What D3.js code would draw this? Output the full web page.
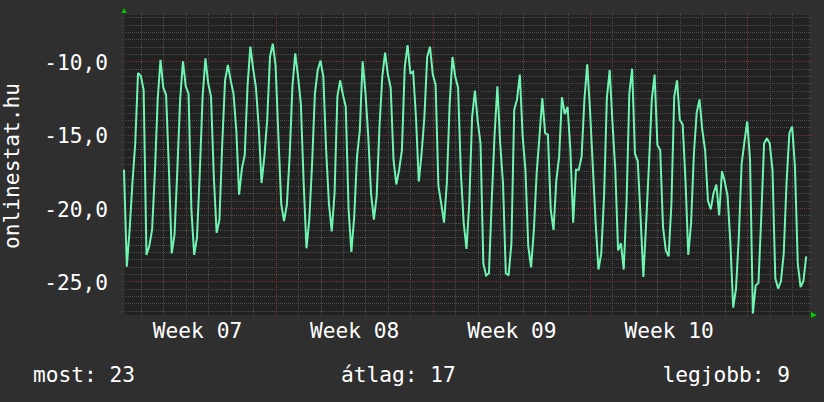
<!DOCTYPE html>
<html><head><meta charset="utf-8">
<script src="https://cdn.jsdelivr.net/npm/d3@7"></script>
<style>html,body{margin:0;padding:0;background:#2f2f2f;}svg{display:block;}</style>
</head><body>
<svg id="chart" width="824" height="402"></svg>
<script>
// ---- data ----
const startTime = "2013-02-11T06:00:00Z";
const endTime = "2013-03-13T18:00:00Z";
const stepHours = 3;
const rankValues = [
-17.4,-24.0,-21.5,-18.3,-15.6,-10.8,-11.0,-11.95,
-23.2,-22.6,-21.5,-17.6,-12.6,-9.9,-11.8,-12.3,
-17.4,-23.1,-21.8,-17.4,-12.6,-10.0,-11.7,-12.2,
-20.1,-23.2,-22.0,-17.6,-12.4,-9.8,-11.5,-12.4,
-17.9,-21.7,-20.8,-15.6,-11.3,-10.25,-11.3,-12.2,
-14.7,-19.1,-17.3,-16.4,-11.7,-9.0,-10.5,-11.8,
-14.5,-18.3,-16.5,-14.0,-9.7,-8.8,-10.3,-15.1,
-19.7,-20.9,-19.8,-16.5,-11.7,-9.45,-11.05,-12.9,
-18.3,-22.75,-20.8,-17.0,-12.2,-10.6,-9.95,-11.05,
-16.05,-19.7,-21.6,-19.0,-12.4,-11.3,-12.3,-13.1,
-20.1,-23.0,-20.6,-16.5,-14.7,-10.0,-12.1,-15.1,
-19.0,-20.8,-19.2,-14.5,-11.05,-9.4,-10.9,-11.8,
-16.7,-18.4,-17.4,-16.05,-10.4,-8.9,-10.8,-10.7,
-13.8,-18.2,-16.3,-13.8,-9.7,-9.0,-10.9,-11.6,
-18.5,-19.7,-21.0,-18.3,-12.9,-9.7,-11.05,-11.8,
-17.6,-21.0,-22.8,-19.6,-13.8,-12.0,-14.1,-15.6,
-23.8,-24.6,-24.45,-19.45,-15.0,-11.7,-15.6,-18.3,
-24.45,-24.6,-22.4,-13.3,-12.6,-10.9,-15.1,-17.4,
-22.6,-24.05,-21.5,-17.6,-15.1,-12.5,-14.9,-15.0,
-20.1,-21.5,-18.1,-16.5,-12.45,-13.6,-13.1,-16.0,
-21.0,-17.4,-17.4,-16.5,-12.6,-10.2,-13.3,-17.2,
-21.0,-24.2,-23.1,-19.2,-12.5,-10.6,-14.2,-17.4,
-22.9,-22.4,-24.2,-19.7,-12.2,-10.5,-16.3,-16.8,
-20.6,-24.7,-21.0,-17.0,-12.6,-10.9,-15.7,-16.05,
-21.3,-22.9,-23.3,-19.7,-12.4,-11.3,-14.0,-14.3,
-18.1,-23.2,-21.0,-16.3,-13.5,-12.6,-14.7,-16.05,
-19.5,-20.1,-19.0,-18.4,-20.5,-17.5,-18.2,-19.2,
-22.4,-26.8,-25.5,-22.0,-17.0,-15.5,-14.1,-16.7,
-27.2,-25.3,-25.1,-20.6,-15.6,-15.25,-15.6,-17.4,
-24.8,-25.5,-25.0,-23.1,-18.3,-14.9,-14.45,-17.2,
-23.8,-25.4,-25.0,-23.3
];
const yDomain = [-27.3, -6.84];
const yMajorTicks = [-25, -20, -15, -10];
const yMinorStep = 0.5;
const yTitle = "onlinestat.hu";
const weekPrefix = "Week ";
const legendLabels = ["most", "átlag", "legjobb"];
const legendValues = [23, 17, 9];

// ---- layout ----
const W = 824, H = 402;
const L = 124, R = 809, T = 15, B = 315;
const FONT = "'DejaVu Sans Mono', monospace";
const FS = 21.2;
const lineColor = "#6ff5b1";
const minorGrid = "#4e4e4e";
const majorGrid = "#7a3636";

const svg = d3.select("#chart");
svg.append("rect").attr("width", W).attr("height", H).attr("fill", "#2f2f2f");

const t0 = new Date(startTime), t1 = new Date(endTime);
const x = d3.scaleUtc().domain([t0, t1]).range([L, R]);
const y = d3.scaleLinear().domain(yDomain).range([B, T]);

svg.append("rect").attr("x", L).attr("y", T).attr("width", R - L).attr("height", B - T).attr("fill", "#212121");

const px = v => Math.round(v) + 0.5;
const grid = svg.append("g").attr("stroke-width", 1).attr("stroke-dasharray", "1,1");

// horizontal minor grid
const kMin = Math.ceil(yDomain[0] / yMinorStep), kMax = Math.floor(yDomain[1] / yMinorStep);
const yMinor = d3.range(kMin, kMax + 1).map(k => k * yMinorStep)
  .filter(v => !yMajorTicks.some(m => Math.abs(m - v) < 1e-6));
grid.selectAll("line.hm").data(yMinor).join("line")
  .attr("x1", L - 2).attr("x2", R + 2)
  .attr("y1", d => px(y(d))).attr("y2", d => px(y(d)))
  .attr("stroke", minorGrid);

// vertical minor grid (days)
const mondays = d3.utcMonday.range(t0, t1);
const days = d3.utcDay.range(t0, t1).filter(d => d.getUTCDay() !== 1);
grid.selectAll("line.vm").data(days).join("line")
  .attr("x1", d => px(x(d))).attr("x2", d => px(x(d)))
  .attr("y1", T - 2).attr("y2", B + 2)
  .attr("stroke", minorGrid);

// major grid
grid.selectAll("line.hM").data(yMajorTicks).join("line")
  .attr("x1", L - 2).attr("x2", R + 2)
  .attr("y1", d => px(y(d))).attr("y2", d => px(y(d)))
  .attr("stroke", majorGrid);
grid.selectAll("line.vM").data(mondays).join("line")
  .attr("x1", d => px(x(d))).attr("x2", d => px(x(d)))
  .attr("y1", T - 2).attr("y2", B + 2)
  .attr("stroke", majorGrid);

// axis frame line
svg.append("line").attr("x1", L + 0.5).attr("x2", L + 0.5).attr("y1", T).attr("y2", B + 3)
  .attr("stroke", "#2c2c2c").attr("stroke-width", 1);

// series
const data = rankValues.map((v, i) => ({t: new Date(+t0 + i * stepHours * 3600e3), v}));
const line = d3.line().x(d => x(d.t)).y(d => y(d.v));
svg.append("path").datum(data).attr("d", line)
  .attr("fill", "none").attr("stroke", lineColor).attr("stroke-width", 2)
  .attr("stroke-linejoin", "miter").attr("stroke-miterlimit", 2);

// y axis labels
const loc = d3.formatLocale({decimal: ",", thousands: " ", grouping: [3], currency: ["", ""], minus: "-"});
const fmt = loc.format(".1f");
const yAxis = d3.axisLeft(y).tickValues(yMajorTicks).tickFormat(fmt).tickSize(0).tickPadding(16);
const gy = svg.append("g").attr("transform", `translate(${L},0)`).call(yAxis);
gy.select(".domain").remove();
gy.selectAll("text").attr("fill", "#ffffff").attr("font-family", FONT).attr("font-size", FS).attr("dy", "0.38em");

// x axis week labels (centered mid-week)
const weekStarts = d3.utcMonday.range(d3.utcMonday.floor(t0), t1);
const weekFmt = d3.utcFormat("%V");
const labelDates = weekStarts.map(d => d3.utcHour.offset(d, 84)).filter(d => d < t1);
const xAxis = d3.axisBottom(x).tickValues(labelDates)
  .tickFormat(d => weekPrefix + weekFmt(d3.utcMonday.floor(d))).tickSize(0).tickPadding(8);
const gx = svg.append("g").attr("transform", `translate(0,${B})`).call(xAxis);
gx.select(".domain").remove();
gx.selectAll("text").attr("fill", "#ffffff").attr("font-family", FONT).attr("font-size", FS).attr("dy", "0.71em");

// y title
svg.append("text").attr("transform", "translate(19,166) rotate(-90)")
  .attr("text-anchor", "middle").attr("fill", "#ffffff")
  .attr("font-family", FONT).attr("font-size", FS).text(yTitle);

// arrows
svg.append("path").attr("d", "M121.5,13 L126.5,13 L124,8 Z").attr("fill", "#00cc00");
svg.append("path").attr("d", "M811,312 L811,318 L817,315 Z").attr("fill", "#00cc00");

// legend
const legendX = [33, 341, 790];
const legendAnchor = ["start", "start", "end"];
svg.selectAll("text.leg").data(legendLabels).join("text")
  .attr("class", "leg")
  .attr("x", (d, i) => legendX[i]).attr("y", 381.5)
  .attr("text-anchor", (d, i) => legendAnchor[i])
  .attr("fill", "#ffffff").attr("font-family", FONT).attr("font-size", FS)
  .text((d, i) => `${d}: ${legendValues[i]}`);
</script>
</body></html>
